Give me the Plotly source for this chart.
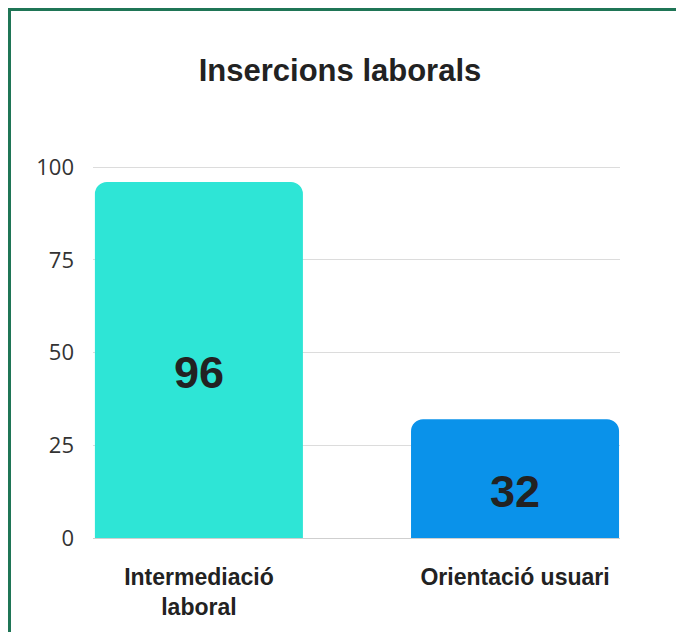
import plotly.graph_objects as go

categories = ["Intermediació<br>laboral", "Orientació usuari"]
values = [96, 32]
bar_colors = ["#2ee5d6", "#0a92ea"]
y_ticks = [0, 25, 50, 75, 100]

W, H = 676, 632
L, R, T = 93, 56, 166
B = H - 538
PW, PH = W - L - R, H - T - B

fig = go.Figure(go.Bar(
    x=categories,
    y=values,
    marker=dict(color=bar_colors, cornerradius=12, line=dict(width=0)),
    hoverinfo="skip",
))

for c, v in zip(categories, values):
    fig.add_annotation(
        x=c, y=v / 2, xref="x", yref="y", text=f"<b>{v}</b>",
        showarrow=False, yshift=-13,
        font=dict(family="Liberation Sans", size=45, color="#222222"),
    )

bx = (9.5 - L) / PW
by = 1 + (T - 9.5) / PH
fig.update_layout(
    width=W, height=H,
    margin=dict(l=L, r=R, t=T, b=B, autoexpand=False),
    paper_bgcolor="white", plot_bgcolor="white",
    bargap=0.342,
    showlegend=False,
    title=dict(
        text="<b>Insercions laborals</b>",
        x=340 / W, xref="container", xanchor="center",
        y=1 - 70 / H, yref="container", yanchor="middle",
        font=dict(family="Liberation Sans", size=31, color="#222222"),
    ),
    xaxis=dict(
        range=[-0.335, 1.332],
        showgrid=False, zeroline=False, showline=False,
        ticks="", ticklabelstandoff=23,
        tickfont=dict(family="Liberation Sans", size=23, color="#222222", weight="bold"),
    ),
    yaxis=dict(
        range=[0, 100.3],
        tickvals=y_ticks,
        showgrid=True, gridcolor="#dcdcdc", gridwidth=1,
        zeroline=True, zerolinecolor="#cfcfcf", zerolinewidth=1,
        showline=False, ticks="", ticklabelstandoff=18,
        tickfont=dict(family="Open Sans", size=22, color="#333333"),
    ),
    shapes=[
        dict(type="line", xref="paper", yref="paper",
             x0=bx, x1=bx, y0=-B / PH, y1=by + 1.5 / PH,
             line=dict(color="#1f7556", width=3), layer="above"),
        dict(type="line", xref="paper", yref="paper",
             x0=bx - 1.5 / PW, x1=(W - L) / PW, y0=by, y1=by,
             line=dict(color="#1f7556", width=3), layer="above"),
    ],
)

fig.write_html(
    "out.html",
    config={"displayModeBar": False, "staticPlot": True},
    post_script="document.body.style.margin='0';document.body.style.overflow='hidden';",
)
